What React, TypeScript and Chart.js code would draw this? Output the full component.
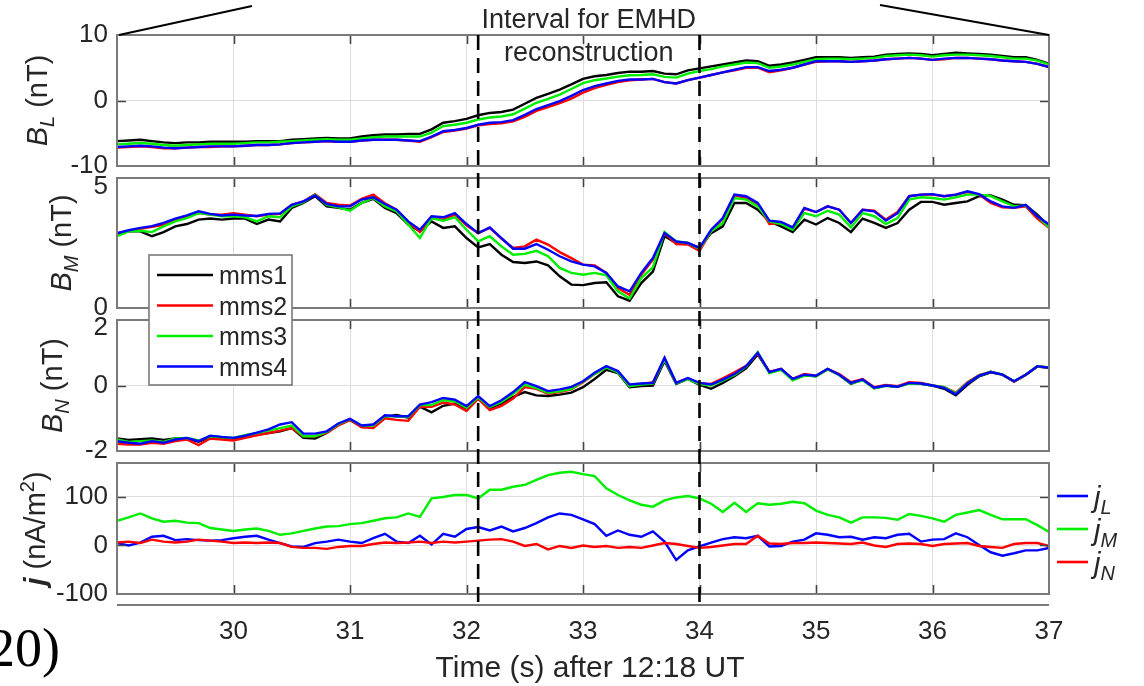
import React, { useEffect, useRef } from "react";
import { Chart, registerables } from "chart.js";

Chart.register(...registerables);

// ---------------- data ----------------
const TIME = [
  29.0, 29.1, 29.2, 29.3, 29.4, 29.5, 29.6, 29.7, 29.8, 29.9,
  30.0, 30.1, 30.2, 30.3, 30.4, 30.5, 30.6, 30.7, 30.8, 30.9,
  31.0, 31.1, 31.2, 31.3, 31.4, 31.5, 31.6, 31.7, 31.8, 31.9,
  32.0, 32.1, 32.2, 32.3, 32.4, 32.5, 32.6, 32.7, 32.8, 32.9,
  33.0, 33.1, 33.2, 33.3, 33.4, 33.5, 33.6, 33.7, 33.8, 33.9,
  34.0, 34.1, 34.2, 34.3, 34.4, 34.5, 34.6, 34.7, 34.8, 34.9,
  35.0, 35.1, 35.2, 35.3, 35.4, 35.5, 35.6, 35.7, 35.8, 35.9,
  36.0, 36.1, 36.2, 36.3, 36.4, 36.5, 36.6, 36.7, 36.8, 36.9,
  37.0,
];

const BL_MMS1 = [
  -6.2, -6.1, -6.0, -6.2, -6.4, -6.5, -6.4, -6.4, -6.3, -6.3,
  -6.3, -6.3, -6.2, -6.2, -6.2, -6.0, -5.9, -5.8, -5.7, -5.8,
  -5.8, -5.5, -5.3, -5.2, -5.2, -5.1, -5.1, -4.4, -3.4, -3.15,
  -2.8, -2.25, -1.9, -1.75, -1.4, -0.5, 0.4, 1.0, 1.65, 2.45,
  3.3, 3.7, 3.9, 4.2, 4.4, 4.4, 4.5, 4.1, 4.0, 4.6,
  4.9, 5.2, 5.5, 5.8, 6.1, 6.0, 5.3, 5.5, 5.8, 6.2,
  6.6, 6.6, 6.6, 6.5, 6.6, 6.7, 7.0, 7.1, 7.2, 7.1,
  6.9, 7.1, 7.3, 7.2, 7.1, 7.0, 6.8, 6.6, 6.6, 6.2,
  5.6,
];
const BL_MMS2 = [
  -7.2, -7.1, -7.0, -7.1, -7.3, -7.3, -7.2, -7.1, -7.1, -7.0,
  -7.0, -6.9, -6.8, -6.8, -6.7, -6.5, -6.4, -6.3, -6.2, -6.3,
  -6.3, -6.1, -6.0, -6.0, -6.0, -6.1, -6.3, -5.6, -4.8, -4.6,
  -4.3, -3.8, -3.6, -3.5, -3.2, -2.5, -1.6, -1.0, -0.4, 0.3,
  1.2, 1.9, 2.4, 2.8, 3.1, 3.2, 3.3, 2.8, 2.6, 3.1,
  3.5, 3.9, 4.3, 4.6, 5.0, 5.0, 4.3, 4.6, 5.0, 5.5,
  5.9, 6.0, 6.0, 5.9, 6.0, 6.1, 6.3, 6.4, 6.5, 6.4,
  6.2, 6.3, 6.5, 6.5, 6.4, 6.3, 6.1, 6.0, 5.9, 5.6,
  5.1,
];
const BL_MMS3 = [
  -6.7, -6.6, -6.5, -6.6, -6.8, -6.9, -6.8, -6.7, -6.6, -6.6,
  -6.6, -6.5, -6.4, -6.4, -6.3, -6.2, -6.1, -6.0, -5.9, -6.0,
  -6.0, -5.8, -5.6, -5.5, -5.5, -5.5, -5.5, -4.9, -3.9, -3.7,
  -3.4, -2.9, -2.6, -2.45, -2.1, -1.25, -0.35, 0.25, 0.9, 1.75,
  2.65, 3.1, 3.35, 3.65, 3.85, 3.9, 4.0, 3.6, 3.5, 4.1,
  4.5, 4.8, 5.2, 5.5, 5.8, 5.7, 5.0, 5.2, 5.5, 5.9,
  6.3, 6.4, 6.4, 6.3, 6.4, 6.5, 6.8, 6.9, 7.0, 6.9,
  6.7, 6.9, 7.0, 7.0, 6.9, 6.8, 6.6, 6.4, 6.4, 6.1,
  5.5,
];
const BL_MMS4 = [
  -7.1, -7.0, -6.9, -7.0, -7.2, -7.3, -7.2, -7.1, -7.0, -7.0,
  -7.0, -6.9, -6.8, -6.8, -6.7, -6.5, -6.4, -6.3, -6.2, -6.3,
  -6.3, -6.1, -6.0, -6.0, -6.0, -6.1, -6.2, -5.5, -4.7, -4.5,
  -4.2, -3.7, -3.4, -3.3, -3.0, -2.2, -1.3, -0.7, -0.1, 0.7,
  1.6, 2.2, 2.6, 3.0, 3.2, 3.2, 3.3, 2.8, 2.6, 3.1,
  3.5, 3.9, 4.3, 4.7, 5.1, 5.1, 4.5, 4.7, 5.0, 5.5,
  6.0, 6.0, 6.0, 5.9, 6.0, 6.1, 6.3, 6.4, 6.5, 6.4,
  6.2, 6.4, 6.5, 6.5, 6.4, 6.3, 6.1, 6.0, 5.9, 5.6,
  5.1,
];

const BM_MMS1 = [
  2.82, 2.95, 2.95, 2.76, 2.92, 3.14, 3.23, 3.4, 3.44, 3.4,
  3.44, 3.44, 3.23, 3.4, 3.33, 3.85, 4.04, 4.3, 3.91, 3.85,
  3.78, 4.04, 4.2, 3.85, 3.65, 3.21, 2.95, 3.33, 3.08, 3.14,
  2.69, 2.33, 2.46, 2.05, 1.77, 1.73, 1.79, 1.64, 1.22, 0.9,
  0.88, 0.96, 0.99, 0.45, 0.28, 0.96, 1.4, 2.76, 2.5, 2.5,
  2.31, 2.88, 3.14, 4.04, 4.04, 3.78, 3.33, 3.14, 2.92, 3.4,
  3.21, 3.46, 3.27, 2.92, 3.44, 3.27, 3.08, 3.27, 3.78, 4.08,
  4.08, 3.97, 4.04, 4.1, 4.3, 4.33, 4.17, 3.97, 3.95, 3.59,
  3.14,
];
const BM_MMS2 = [
  2.88, 2.96, 3.05, 3.12, 3.2, 3.4, 3.53, 3.65, 3.59, 3.59,
  3.65, 3.59, 3.53, 3.59, 3.62, 3.97, 4.1, 4.38, 4.04, 3.97,
  3.94, 4.2, 4.36, 4.03, 3.78, 3.31, 2.92, 3.46, 3.4, 3.59,
  3.18, 2.88, 3.08, 2.67, 2.31, 2.37, 2.63, 2.44, 2.15, 1.92,
  1.67, 1.64, 1.35, 0.77, 0.51, 1.28, 1.86, 2.88, 2.46, 2.44,
  2.2, 2.95, 3.44, 4.33, 4.23, 3.97, 3.23, 3.27, 3.08, 3.82,
  3.69, 3.91, 3.78, 3.27, 3.78, 3.74, 3.4, 3.69, 4.3, 4.36,
  4.36, 4.3, 4.36, 4.46, 4.36, 4.04, 3.87, 3.85, 3.91, 3.44,
  3.08,
];
const BM_MMS3 = [
  2.76, 2.95, 2.97, 2.92, 3.14, 3.33, 3.46, 3.65, 3.59, 3.53,
  3.53, 3.49, 3.33, 3.53, 3.49, 3.91, 4.07, 4.36, 3.97, 3.87,
  3.74, 4.04, 4.23, 3.91, 3.72, 3.21, 2.69, 3.46, 3.36, 3.49,
  3.01, 2.56, 2.76, 2.37, 2.05, 2.08, 2.2, 1.99, 1.54, 1.35,
  1.28, 1.35, 1.26, 0.64, 0.36, 1.15, 1.56, 2.92, 2.56, 2.5,
  2.28, 2.95, 3.27, 4.23, 4.17, 3.91, 3.33, 3.23, 3.01, 3.65,
  3.53, 3.74, 3.59, 3.1, 3.65, 3.53, 3.23, 3.46, 4.17, 4.26,
  4.23, 4.17, 4.26, 4.36, 4.36, 4.3, 4.1, 3.91, 3.95, 3.53,
  3.1,
];
const BM_MMS4 = [
  2.88, 2.99, 3.08, 3.15, 3.27, 3.44, 3.56, 3.72, 3.62, 3.56,
  3.59, 3.56, 3.54, 3.62, 3.64, 3.97, 4.1, 4.33, 4.0, 3.91,
  3.91, 4.17, 4.26, 4.0, 3.78, 3.33, 3.01, 3.53, 3.49, 3.65,
  3.23, 2.88, 3.1, 2.69, 2.28, 2.28, 2.46, 2.24, 1.99, 1.79,
  1.67, 1.6, 1.35, 0.83, 0.64, 1.35, 1.92, 2.88, 2.56, 2.5,
  2.31, 3.01, 3.46, 4.36, 4.3, 4.04, 3.36, 3.31, 3.1, 3.85,
  3.69, 3.91, 3.78, 3.27, 3.78, 3.72, 3.36, 3.65, 4.3, 4.36,
  4.38, 4.3, 4.36, 4.49, 4.38, 4.1, 3.91, 3.85, 3.97, 3.53,
  3.21,
];

const BN_MMS1 = [
  -1.62, -1.66, -1.64, -1.62, -1.66, -1.62, -1.62, -1.72, -1.58, -1.6,
  -1.62, -1.56, -1.5, -1.45, -1.4, -1.3, -1.6, -1.62, -1.45, -1.2,
  -1.05, -1.25, -1.2, -0.95, -0.9, -0.98, -0.65, -0.82, -0.62, -0.55,
  -0.7, -0.4, -0.7, -0.55, -0.35, -0.2, -0.3, -0.32, -0.28, -0.22,
  -0.05, 0.2, 0.48, 0.38, -0.05, -0.02, 0.0, 0.75, 0.05, 0.2,
  0.02, -0.1, 0.08, 0.28, 0.52, 0.95, 0.4, 0.5, 0.18, 0.32,
  0.28, 0.5, 0.32, 0.05, 0.18, -0.08, 0.0, -0.04, 0.08, 0.05,
  0.0, -0.1, -0.3, 0.02, 0.28, 0.4, 0.33, 0.12, 0.32, 0.58,
  0.54,
];
const BN_MMS2 = [
  -1.78, -1.8, -1.8, -1.75, -1.78, -1.7, -1.65, -1.82, -1.62, -1.65,
  -1.68, -1.6, -1.52, -1.45, -1.38, -1.3, -1.55, -1.55, -1.45, -1.22,
  -1.05, -1.28, -1.3, -1.0, -1.05, -1.08, -0.65, -0.65, -0.52, -0.58,
  -0.78, -0.4, -0.75, -0.62, -0.4, -0.05, -0.1, -0.25, -0.2, -0.12,
  0.1, 0.35, 0.55, 0.42, 0.0, 0.05, 0.1, 0.82, 0.08, 0.22,
  0.06, 0.05, 0.22, 0.4, 0.6, 0.98, 0.42, 0.5, 0.2, 0.35,
  0.3, 0.5, 0.35, 0.1, 0.2, -0.05, 0.02, -0.02, 0.1, 0.08,
  0.0, -0.05, -0.22, 0.1, 0.32, 0.42, 0.33, 0.12, 0.33, 0.58,
  0.55,
];
const BN_MMS3 = [
  -1.65, -1.72, -1.7, -1.68, -1.72, -1.62, -1.6, -1.68, -1.55, -1.58,
  -1.6, -1.52, -1.45, -1.38, -1.3, -1.22, -1.55, -1.55, -1.42, -1.18,
  -1.03, -1.22, -1.22, -0.93, -0.95, -0.96, -0.6, -0.6, -0.45, -0.48,
  -0.68, -0.36, -0.66, -0.5, -0.26, 0.02, -0.08, -0.22, -0.18, -0.1,
  0.12, 0.35, 0.55, 0.4, -0.02, 0.03, 0.06, 0.8, 0.06, 0.2,
  0.04, 0.0, 0.15, 0.32, 0.58, 1.02, 0.38, 0.48, 0.16, 0.3,
  0.28, 0.5, 0.32, 0.06, 0.16, -0.08, -0.01, -0.04, 0.06, 0.05,
  0.0, -0.05, -0.24, 0.08, 0.3, 0.42, 0.33, 0.13, 0.33, 0.59,
  0.55,
];
const BN_MMS4 = [
  -1.7, -1.75, -1.78, -1.7, -1.75, -1.65, -1.6, -1.7, -1.53, -1.57,
  -1.6, -1.53, -1.44, -1.34, -1.19, -1.12, -1.47, -1.47, -1.4, -1.16,
  -1.02, -1.22, -1.19, -0.91, -0.94, -0.94, -0.58, -0.51, -0.38, -0.43,
  -0.63, -0.32, -0.63, -0.45, -0.2, 0.1, -0.02, -0.17, -0.12, -0.04,
  0.13, 0.39, 0.59, 0.44, 0.03, 0.06, 0.08, 0.85, 0.08, 0.23,
  0.08, 0.03, 0.18, 0.35, 0.59, 1.0, 0.41, 0.51, 0.2, 0.33,
  0.3, 0.51, 0.33, 0.08, 0.18, -0.07, 0.0, -0.04, 0.08, 0.06,
  0.0, -0.07, -0.27, 0.06, 0.3, 0.41, 0.33, 0.13, 0.33, 0.59,
  0.54,
];

const J_L = [
  5, 0, 6, 18, 20, 11, 13, 11, 10, 11,
  15, 18, 20, 12, 5, -2, -3, 5, 8, 12,
  8, 5, 15, 24, 8, 5, 20, 2, 24, 18,
  34, 38, 31, 39, 29, 36, 46, 58, 66, 63,
  54, 44, 20, 31, 22, 18, 29, 8, -30, -10,
  -2, 6, 13, 17, 15, 20, -2, -1, 8, 12,
  25, 22, 17, 18, 12, 17, 15, 22, 24, 8,
  12, 13, 25, 17, 1, -14, -21, -16, -10, -10,
  -5,
];
const J_M = [
  51, 58, 66, 56, 49, 51, 47, 46, 36, 33,
  30, 33, 35, 30, 22, 25, 30, 35, 39, 40,
  44, 46, 51, 56, 58, 66, 59, 97, 100, 104,
  104, 97, 115, 115, 121, 125, 135, 145, 150, 152,
  147, 143, 118, 104, 93, 84, 80, 93, 99, 102,
  97, 86, 69, 88, 69, 87, 84, 86, 90, 87,
  72, 63, 58, 47, 58, 58, 57, 53, 65, 61,
  56, 49, 63, 68, 73, 63, 54, 54, 54, 42,
  28,
];
const J_N = [
  6, 8, 5, 12, 8, 6, 8, 12, 10, 8,
  5, 6, 5, 6, 5, -3, -5, -5, -7, -3,
  -1, -1, 3, 6, 5, 6, 8, 5, 8, 6,
  8, 10, 12, 13, 8, -1, 3, -8, -1, -5,
  0, -3, -1, -5, -3, -5, 0, 5, 3, -1,
  -5, -3, 0, 3, 3, 20, 4, 3, 5, 5,
  6, 5, 4, 3, 6, 0, -3, 3, 4, 3,
  -1, 3, 4, 5, -1, -3, -5, 3, 5, 5,
  -1,
];

const X_TICKS = [30, 31, 32, 33, 34, 35, 36, 37];
const DASH_TIMES = [32.1, 34.0];
const MMS_NAMES = ["mms1", "mms2", "mms3", "mms4"];
const J_NAMES = ["L", "M", "N"];

// ---------------- layout / style ----------------
const W = 1144;
const H = 686;
const PLOT_LEFT = 117;
const PLOT_RIGHT = 1049;
const Y_AXIS_W = 100;
const X_AXIS_H = 60;
const FONT = '"Liberation Sans", Arial, Helvetica, sans-serif';
const SERIF = '"Liberation Serif", "Times New Roman", serif';
const TEXT = "#262626";
const GRID = "#dedede";
const BOX = "#7a7a7a";
const TICKC = "#454545";
const MMS_COLORS = ["#000000", "#ff0000", "#00ee00", "#0000ff"];
const J_COLORS = ["#0000ff", "#00ee00", "#ff0000"];
const LW = 2.4;
const TICK_SIZE = 26;

type Part = { t: string; it?: boolean; bold?: boolean; sub?: boolean; sup?: boolean };

function partFont(p: Part, size: number) {
  const small = Math.round(size * 0.7);
  return `${p.it ? "italic " : ""}${p.bold ? "bold " : ""}${p.sub || p.sup ? small : size}px ${FONT}`;
}

function drawParts(ctx: CanvasRenderingContext2D, parts: Part[], size: number, x0: number, y0: number) {
  let x = x0;
  for (const p of parts) {
    ctx.font = partFont(p, size);
    const dy = p.sub ? size * 0.25 : p.sup ? -size * 0.38 : 0;
    ctx.fillText(p.t, x, y0 + dy);
    x += ctx.measureText(p.t).width;
  }
  return x - x0;
}

function measureParts(ctx: CanvasRenderingContext2D, parts: Part[], size: number) {
  let w = 0;
  for (const p of parts) {
    ctx.font = partFont(p, size);
    w += ctx.measureText(p.t).width;
  }
  return w;
}

function framePlugin(yTicks: number[], label: Part[], labelX: number) {
  return {
    id: "frame",
    afterDraw(chart: any) {
      const { ctx, chartArea: a, scales } = chart;
      ctx.save();
      ctx.strokeStyle = TICKC;
      ctx.lineWidth = 1.6;
      const TL = 9;
      ctx.beginPath();
      for (const v of X_TICKS) {
        const px = Math.round(scales.x.getPixelForValue(v)) + 0.5;
        if (px <= a.left + 1 || px >= a.right - 1) continue;
        ctx.moveTo(px, a.top);
        ctx.lineTo(px, a.top + TL);
        ctx.moveTo(px, a.bottom);
        ctx.lineTo(px, a.bottom - TL);
      }
      for (const v of yTicks) {
        const py = Math.round(scales.y.getPixelForValue(v)) + 0.5;
        if (py <= a.top + 1 || py >= a.bottom - 1) continue;
        ctx.moveTo(a.left, py);
        ctx.lineTo(a.left + TL, py);
        ctx.moveTo(a.right, py);
        ctx.lineTo(a.right - TL, py);
      }
      ctx.stroke();
      ctx.strokeStyle = BOX;
      ctx.lineWidth = 2;
      ctx.strokeRect(a.left, a.top, a.right - a.left, a.bottom - a.top);
      const size = 29;
      const w = measureParts(ctx, label, size);
      ctx.translate(labelX, (a.top + a.bottom) / 2);
      ctx.rotate(-Math.PI / 2);
      ctx.fillStyle = TEXT;
      ctx.textBaseline = "alphabetic";
      ctx.textAlign = "left";
      drawParts(ctx, label, size, -w / 2, 0);
      ctx.restore();
    },
  };
}

const topPlugin = {
  id: "topAnnot",
  afterDraw(chart: any) {
    const { ctx, chartArea: a, scales } = chart;
    ctx.save();
    ctx.strokeStyle = "#000";
    ctx.lineWidth = 2;
    ctx.beginPath();
    ctx.moveTo(a.left + 2, a.top);
    ctx.lineTo(252, 6);
    ctx.moveTo(a.right, a.top);
    ctx.lineTo(880, 5);
    ctx.stroke();
    const cx = (scales.x.getPixelForValue(DASH_TIMES[0]) + scales.x.getPixelForValue(DASH_TIMES[1])) / 2;
    ctx.fillStyle = TEXT;
    ctx.font = `27px ${FONT}`;
    ctx.textAlign = "center";
    ctx.textBaseline = "alphabetic";
    ctx.fillText("Interval for EMHD", cx, 28);
    ctx.fillText("reconstruction", cx, 61);
    ctx.restore();
  },
};

const mmsLegendPlugin = {
  id: "mmsLegend",
  afterDraw(chart: any) {
    const { ctx } = chart;
    ctx.save();
    ctx.fillStyle = "#fff";
    ctx.fillRect(149, 255, 143, 130);
    ctx.strokeStyle = BOX;
    ctx.lineWidth = 1.6;
    ctx.strokeRect(149, 255, 143, 130);
    const ys = [275, 305.5, 336, 366.5];
    ctx.font = `25px ${FONT}`;
    ctx.textBaseline = "alphabetic";
    ctx.textAlign = "left";
    MMS_NAMES.forEach((n, i) => {
      ctx.strokeStyle = MMS_COLORS[i];
      ctx.lineWidth = 2.6;
      ctx.beginPath();
      ctx.moveTo(157, ys[i]);
      ctx.lineTo(213, ys[i]);
      ctx.stroke();
      ctx.fillStyle = TEXT;
      ctx.fillText(n, 219, ys[i] + 9);
    });
    ctx.restore();
  },
};

const bottomPlugin = {
  id: "bottomAnnot",
  afterDraw(chart: any) {
    const { ctx, chartArea: a, scales } = chart;
    ctx.save();
    ctx.strokeStyle = "#000";
    ctx.lineWidth = 2.6;
    ctx.setLineDash([15, 8]);
    for (const t of DASH_TIMES) {
      const px = scales.x.getPixelForValue(t);
      ctx.beginPath();
      ctx.moveTo(px, 35);
      ctx.lineTo(px, 605);
      ctx.stroke();
    }
    ctx.setLineDash([]);
    ctx.strokeStyle = BOX;
    ctx.lineWidth = 2;
    ctx.beginPath();
    ctx.moveTo(a.left, 605);
    ctx.lineTo(a.right, 605);
    ctx.stroke();
    ctx.fillStyle = TEXT;
    ctx.font = `30px ${FONT}`;
    ctx.textAlign = "center";
    ctx.textBaseline = "alphabetic";
    ctx.fillText("Time (s) after 12:18 UT", 590, 677);
    ctx.textAlign = "left";
    const ly = [496, 529, 562];
    J_NAMES.forEach((n, i) => {
      ctx.strokeStyle = J_COLORS[i];
      ctx.lineWidth = 2.6;
      ctx.beginPath();
      ctx.moveTo(1057, ly[i]);
      ctx.lineTo(1088, ly[i]);
      ctx.stroke();
      ctx.fillStyle = TEXT;
      drawParts(ctx, [{ t: "j", it: true }, { t: n, it: true, sub: true }], 29, 1094, ly[i] + 11);
    });
    ctx.fillStyle = "#000";
    ctx.font = `54px ${SERIF}`;
    ctx.fillText("20)", -12, 666);
    ctx.restore();
  },
};

function buildConfig(p: {
  top: number;
  bottom: number;
  yMin: number;
  yMax: number;
  yTicks: number[];
  yShift: Record<string, number>;
  series: number[][];
  colors: string[];
  showX: boolean;
  plugins: any[];
}) {
  const n = p.series.length;
  const shiftOf = (v: number) => p.yShift[String(v)] || 0;
  return {
    type: "line" as const,
    data: {
      datasets: p.series.map((vals, i) => ({
        data: TIME.map((t, k) => ({ x: t, y: vals[k] })),
        borderColor: p.colors[i],
        backgroundColor: p.colors[i],
        borderWidth: LW,
        pointRadius: 0,
        tension: 0,
        fill: false,
        order: n - i,
      })),
    },
    options: {
      responsive: false,
      animation: false as const,
      devicePixelRatio: 1,
      events: [],
      layout: {
        padding: {
          left: PLOT_LEFT - Y_AXIS_W,
          right: W - PLOT_RIGHT,
          top: p.top,
          bottom: H - p.bottom - (p.showX ? X_AXIS_H : 0),
        },
      },
      plugins: { legend: { display: false }, tooltip: { enabled: false } },
      scales: {
        x: {
          type: "linear" as const,
          min: 29,
          max: 37,
          afterBuildTicks: (s: any) => {
            s.ticks = X_TICKS.map((v) => ({ value: v }));
          },
          afterFit: (s: any) => {
            s.height = p.showX ? X_AXIS_H : 0;
          },
          grid: { color: GRID, lineWidth: 1, drawTicks: false },
          border: { display: false },
          ticks: {
            display: p.showX,
            font: { family: FONT, size: TICK_SIZE },
            color: TEXT,
            padding: 22,
            maxRotation: 0,
            autoSkip: false,
            callback: (v: any) => String(v),
          },
        },
        y: {
          type: "linear" as const,
          min: p.yMin,
          max: p.yMax,
          afterBuildTicks: (s: any) => {
            s.ticks = p.yTicks.map((v) => ({ value: v }));
          },
          afterFit: (s: any) => {
            s.width = Y_AXIS_W;
          },
          grid: { color: GRID, lineWidth: 1, drawTicks: false },
          border: { display: false },
          ticks: {
            font: (c: any) => {
              const s = c && c.tick ? shiftOf(c.tick.value) : 0;
              return { family: FONT, size: TICK_SIZE, lineHeight: s > 0 ? (2 * s) / TICK_SIZE : 1.2 };
            },
            color: TEXT,
            padding: 9,
            autoSkip: false,
            callback: (v: any) => (shiftOf(v) > 0 ? ["", String(v)] : String(v)),
          },
        },
      },
    },
    plugins: p.plugins,
  };
}

export default function App() {
  const r0 = useRef<HTMLCanvasElement>(null);
  const r1 = useRef<HTMLCanvasElement>(null);
  const r2 = useRef<HTMLCanvasElement>(null);
  const r3 = useRef<HTMLCanvasElement>(null);

  useEffect(() => {
    const refs = [r0, r1, r2, r3];
    const configs = [
      buildConfig({
        top: 35, bottom: 166, yMin: -10, yMax: 10, yTicks: [-10, 0, 10], yShift: {},
        series: [BL_MMS1, BL_MMS2, BL_MMS3, BL_MMS4], colors: MMS_COLORS, showX: false,
        plugins: [framePlugin([-10, 0, 10], [{ t: "B", it: true }, { t: "L", it: true, sub: true }, { t: " (nT)" }], 47), topPlugin],
      }),
      buildConfig({
        top: 178, bottom: 308, yMin: 0, yMax: 5, yTicks: [0, 5], yShift: { "5": 9 },
        series: [BM_MMS1, BM_MMS2, BM_MMS3, BM_MMS4], colors: MMS_COLORS, showX: false,
        plugins: [framePlugin([0, 5], [{ t: "B", it: true }, { t: "M", it: true, sub: true }, { t: " (nT)" }], 71)],
      }),
      buildConfig({
        top: 320, bottom: 451, yMin: -2, yMax: 2, yTicks: [-2, 0, 2], yShift: { "2": 8 },
        series: [BN_MMS1, BN_MMS2, BN_MMS3, BN_MMS4], colors: MMS_COLORS, showX: false,
        plugins: [framePlugin([-2, 0, 2], [{ t: "B", it: true }, { t: "N", it: true, sub: true }, { t: " (nT)" }], 62), mmsLegendPlugin],
      }),
      buildConfig({
        top: 463, bottom: 594, yMin: -100, yMax: 170, yTicks: [-100, 0, 100], yShift: {},
        series: [J_L, J_M, J_N], colors: J_COLORS, showX: true,
        plugins: [framePlugin([-100, 0, 100], [{ t: "j", it: true, bold: true }, { t: " (nA/m" }, { t: "2", sup: true }, { t: ")" }], 45), bottomPlugin],
      }),
    ];
    const charts = configs.map((cfg, i) => new Chart(refs[i].current as HTMLCanvasElement, cfg as any));
    return () => charts.forEach((c) => c.destroy());
  }, []);

  const cs: React.CSSProperties = { position: "absolute", left: 0, top: 0, width: W, height: H };
  return (
    <div style={{ position: "absolute", left: 0, top: 0, width: W, height: H, background: "#fff", overflow: "hidden" }}>
      <canvas ref={r0} width={W} height={H} style={cs} />
      <canvas ref={r1} width={W} height={H} style={cs} />
      <canvas ref={r2} width={W} height={H} style={cs} />
      <canvas ref={r3} width={W} height={H} style={cs} />
    </div>
  );
}
